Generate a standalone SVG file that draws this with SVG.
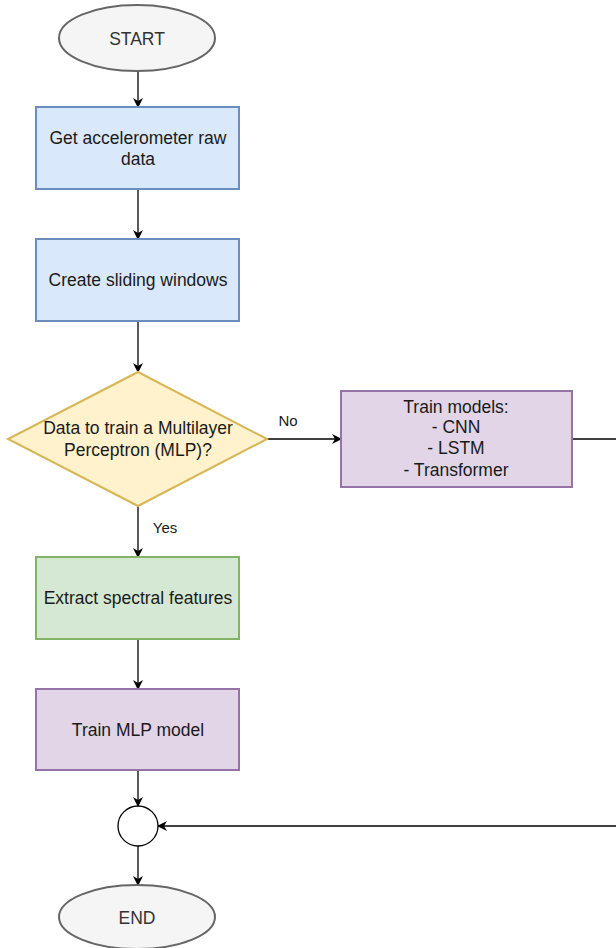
<svg xmlns="http://www.w3.org/2000/svg" width="616" height="948" viewBox="0 0 616 948">
<defs>
<marker id="arr" viewBox="0 0 10 10" refX="9" refY="5" markerWidth="10" markerHeight="10" markerUnits="userSpaceOnUse" orient="auto">
<path d="M0,0 L10,5 L0,10 L3,5 Z" fill="#000"/>
</marker>
<style>
text{font-family:"Liberation Sans",Arial,sans-serif;font-size:17.5px;fill:#1a1a1a;text-anchor:middle;dominant-baseline:central}
.term{fill:#f5f5f5;stroke:#666666;stroke-width:2}
.tt{fill:#333333}
.blue{fill:#dae8fc;stroke:#6c8ebf;stroke-width:2}
.yel{fill:#fff2cc;stroke:#d6b656;stroke-width:2}
.grn{fill:#d5e8d4;stroke:#82b366;stroke-width:2}
.pur{fill:#e1d5e7;stroke:#9673a6;stroke-width:2}
.edge{fill:none;stroke:#000;stroke-width:1.3}
.lbl{font-size:15px}
</style>
</defs>
<g id="connectors">
<line class="edge" x1="138" y1="71" x2="138" y2="107" marker-end="url(#arr)"/>
<line class="edge" x1="138" y1="189" x2="138" y2="239" marker-end="url(#arr)"/>
<line class="edge" x1="138" y1="321" x2="138" y2="372" marker-end="url(#arr)"/>
<line class="edge" x1="267" y1="439" x2="341" y2="439" marker-end="url(#arr)"/>
<text class="lbl" x="288" y="420">No</text>
<line class="edge" x1="138" y1="506" x2="138" y2="557" marker-end="url(#arr)"/>
<text class="lbl" x="165" y="527">Yes</text>
<line class="edge" x1="138" y1="639" x2="138" y2="689" marker-end="url(#arr)"/>
<line class="edge" x1="138" y1="770" x2="138" y2="806" marker-end="url(#arr)"/>
<line class="edge" x1="572" y1="439" x2="620" y2="439"/>
<line class="edge" x1="620" y1="826" x2="158" y2="826" marker-end="url(#arr)"/>
<line class="edge" x1="138" y1="846" x2="138" y2="885" marker-end="url(#arr)"/>
</g>
<g id="start">
<ellipse class="term" cx="137" cy="38" rx="78" ry="33"/>
<text class="tt" x="137" y="39">START</text>
</g>
<g id="get-data">
<rect class="blue" x="36" y="107" width="203" height="82"/>
<text x="138" y="138">Get accelerometer raw</text>
<text x="138" y="159">data</text>
</g>
<g id="windows">
<rect class="blue" x="36" y="239" width="203" height="82"/>
<text x="138" y="280">Create sliding windows</text>
</g>
<g id="decision">
<polygon class="yel" points="138,372 267,439 138,506 8,439"/>
<text x="138" y="428">Data to train a Multilayer</text>
<text x="138" y="450">Perceptron (MLP)?</text>
</g>
<g id="train-models">
<rect class="pur" x="341" y="391" width="231" height="96"/>
<text x="456" y="407">Train models:</text>
<text x="456" y="427">- CNN</text>
<text x="456" y="448">- LSTM</text>
<text x="456" y="470">- Transformer</text>
</g>
<g id="extract">
<rect class="grn" x="36" y="557" width="203" height="82"/>
<text x="138" y="598">Extract spectral features</text>
</g>
<g id="train-mlp">
<rect class="pur" x="36" y="689" width="203" height="81"/>
<text x="138" y="730">Train MLP model</text>
</g>
<g id="merge">
<circle cx="138" cy="826" r="20" fill="#ffffff" stroke="#000" stroke-width="1.3"/>
</g>
<g id="end">
<ellipse class="term" cx="137" cy="917" rx="78" ry="32"/>
<text class="tt" x="137" y="918">END</text>
</g>
</svg>
